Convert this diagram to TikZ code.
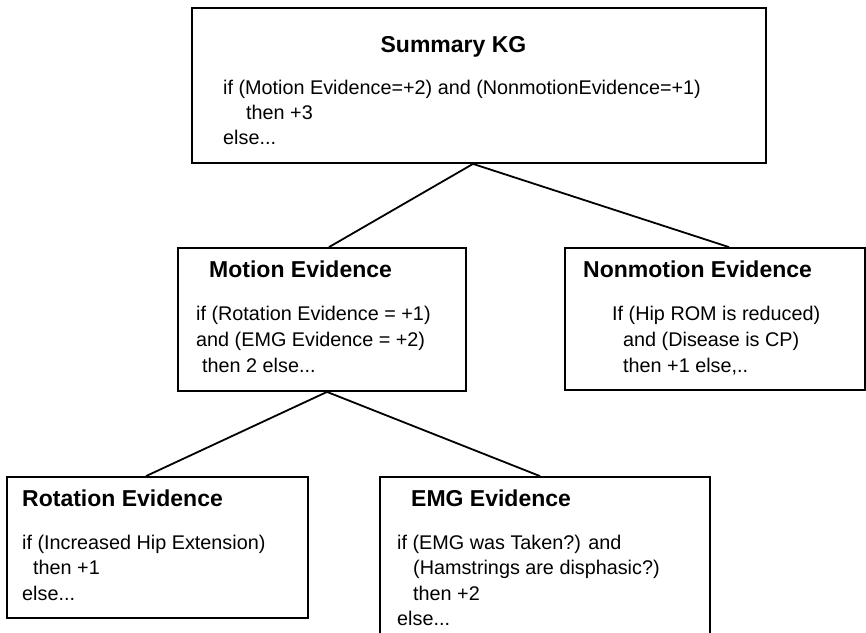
\documentclass[tikz,border=0pt]{standalone}
\usepackage{fontspec}
\setmainfont{Liberation Sans}
\begin{document}
\begin{tikzpicture}[x=1pt,y=-1pt,
  box/.style={draw=black,line width=1.8pt,rectangle,inner sep=0pt},
  link/.style={draw=black,line width=1.8pt},
  txt/.style={anchor=base west,inner sep=0pt,font=\fontsize{19.8}{24}\selectfont},
  ttl/.style={anchor=base west,inner sep=0pt,font=\bfseries\fontsize{23}{28}\selectfont}]
% page frame
\clip (0,0) rectangle (866,632);
\fill[white] (0,0) rectangle (866,632);

% decision boxes
\node[box,minimum width=574pt,minimum height=155pt] (summary) at (479,85.5) {};
\node[box,minimum width=288pt,minimum height=143pt] (motion) at (322,319.5) {};
\node[box,minimum width=300pt,minimum height=142pt] (nonmotion) at (715,319) {};
\node[box,minimum width=301pt,minimum height=141pt] (rotation) at (157.5,547.5) {};
\node[box,minimum width=330pt,minimum height=173pt] (emg) at (545,563.5) {};

% tree links
\draw[link] ([xshift=-6pt]summary.south) -- ([xshift=7pt]motion.north);
\draw[link] ([xshift=-6pt]summary.south) -- ([xshift=14pt]nonmotion.north);
\draw[link] ([xshift=5pt]motion.south) -- ([xshift=-11.5pt]rotation.north);
\draw[link] ([xshift=5pt]motion.south) -- ([xshift=-5pt]emg.north);

% Summary KG
\node[ttl,anchor=base] (sT) at (453.5,52) {Summary KG};
\node[txt] (s1) at (223,94) {if (Motion Evidence=+2) and (NonmotionEvidence=+1)};
\node[txt] (s2) at (246,119) {then +3};
\node[txt] (s3) at (223,144) {else...};

% Motion Evidence
\node[ttl] (mT) at (209,277) {Motion Evidence};
\node[txt] (m1) at (196,320) {if (Rotation Evidence = +1)};
\node[txt] (m2) at (196,346) {and (EMG Evidence = +2)};
\node[txt] (m3) at (202,372) {then 2 else...};

% Nonmotion Evidence
\node[ttl] (nT) at (583,277) {Nonmotion Evidence};
\node[txt] (n1) at (612,320) {If (Hip ROM is reduced)};
\node[txt] (n2) at (623,346) {and (Disease is CP)};
\node[txt] (n3) at (623,372) {then +1 else,..};

% Rotation Evidence
\node[ttl] (rT) at (22,506) {Rotation Evidence};
\node[txt] (r1) at (22,549) {if (Increased Hip Extension)};
\node[txt] (r2) at (33,574) {then +1};
\node[txt] (r3) at (22,600) {else...};

% EMG Evidence
\node[ttl] (eT) at (411,506) {EMG Evidence};
\node[txt] (e1) at (397,549) {if (EMG was Taken?) and};
\node[txt] (e2) at (413,574) {(Hamstrings are disphasic?)};
\node[txt] (e3) at (413,600) {then +2};
\node[txt] (e4) at (397,625) {else...};
\end{tikzpicture}
\end{document}
